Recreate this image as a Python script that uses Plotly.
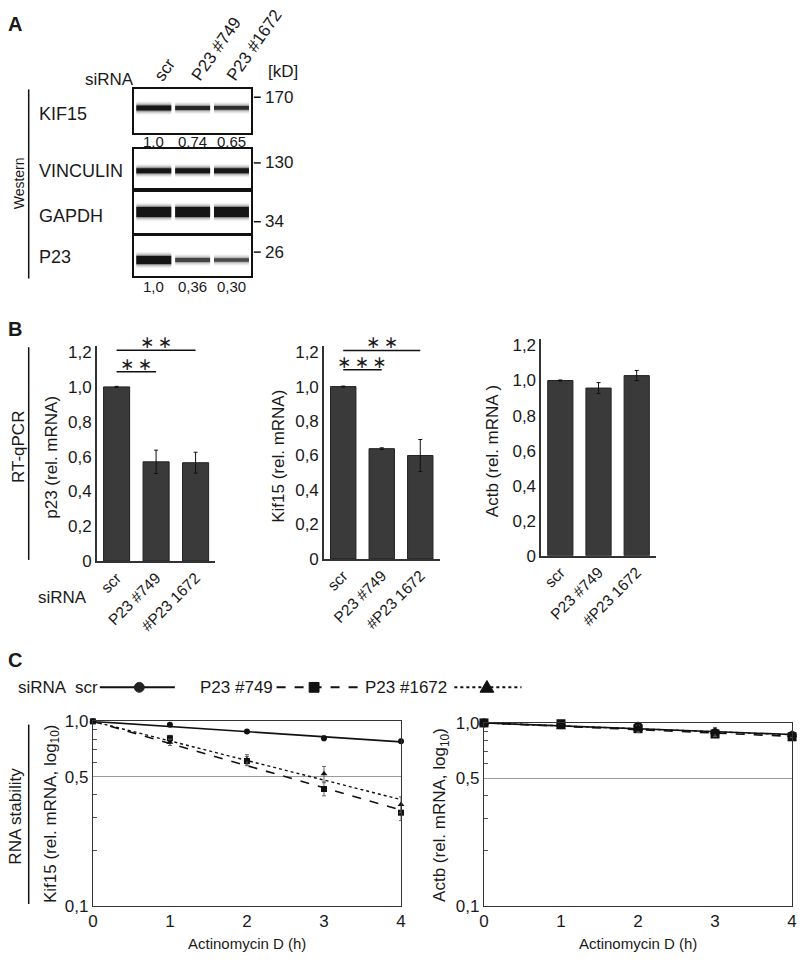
import numpy as np
import plotly.graph_objects as go

W, H = 803, 963

# ---------------- data ----------------
lanes = ["scr", "P23 #749", "P23 #1672"]
blot_rows = ["KIF15", "VINCULIN", "GAPDH", "P23"]
kif15_band = [1.0, 0.74, 0.65]
vinculin_band = [1.0, 1.0, 0.97]
gapdh_band = [1.0, 1.0, 1.0]
p23_band = [1.0, 0.36, 0.30]
kif15_quant = ["1,0", "0,74", "0,65"]
p23_quant = ["1,0", "0,36", "0,30"]
mw_labels = ["170", "130", "34", "26"]

bar_cats = ["scr", "P23 #749", "#P23 1672"]
p23_mrna = [1.0, 0.57, 0.565]
p23_err = [0.003, 0.067, 0.06]
kif15_mrna = [1.0, 0.64, 0.60]
kif15_err = [0.003, 0.005, 0.093]
actb_mrna = [1.0, 0.957, 1.028]
actb_err = [0.003, 0.031, 0.029]
p23_sig = ["∗&#8201;∗", "∗&#8201;∗"]        # scr vs #749, scr vs #1672
kif15_sig = ["∗&#8201;∗&#8201;∗", "∗&#8201;∗"]
bar_ticks = [0, 0.2, 0.4, 0.6, 0.8, 1.0, 1.2]
bar_ticktext = ["0", "0,2", "0,4", "0,6", "0,8", "1,0", "1,2"]

time_h = [0, 1, 2, 3, 4]
kif15_scr = [1.0, 0.96, 0.88, 0.81, 0.78]
kif15_scr_err = [0.0, 0.012, 0.012, 0.025, 0.02]
kif15_749 = [1.0, 0.81, 0.61, 0.43, 0.32]
kif15_749_err = [0.0, 0.03, 0.035, 0.035, 0.03]
kif15_1672 = [1.0, 0.77, 0.62, 0.52, 0.355]
kif15_1672_err = [0.0, 0.03, 0.04, 0.05, 0.035]
actb_scr = [1.0, 0.98, 0.96, 0.885, 0.855]
actb_scr_err = [0.0, 0.02, 0.03, 0.04, 0.03]
actb_749 = [1.0, 0.99, 0.93, 0.87, 0.84]
actb_749_err = [0.0, 0.02, 0.03, 0.03, 0.03]
actb_1672 = [1.0, 0.95, 0.93, 0.895, 0.865]
actb_1672_err = [0.0, 0.02, 0.04, 0.05, 0.03]
log_ticks = [0.1, 0.5, 1.0]
log_ticktext = ["0,1", "0,5", "1,0"]
x_ticks = [0, 1, 2, 3, 4]

# ---------------- helpers ----------------
FONT = "Liberation Sans, Arial, sans-serif"
STAR_FONT = "DejaVu Sans, sans-serif"
TXT = "#1a1a1a"


def px(x):
    return x / W


def py(y):
    return 1 - y / H


def xd(a, b):
    return [a / W, b / W]


def yd(top, bot):
    return [1 - bot / H, 1 - top / H]


fig = go.Figure()
layout = {}
annotations = []
shapes = []


def ann(text, x, y, size=17, xanchor="center", yanchor="middle", angle=0,
        bold=False, xref="paper", yref="paper", color=TXT, yshift=0, family=FONT):
    if bold:
        text = "<b>" + text + "</b>"
    annotations.append(dict(text=text, x=x, y=y, xref=xref, yref=yref,
                            xanchor=xanchor, yanchor=yanchor, textangle=angle,
                            showarrow=False, yshift=yshift, borderpad=0,
                            font=dict(family=family, size=size, color=color)))


def pline(x0, y0, x1, y1, width=2, color="#111", dash="solid"):
    shapes.append(dict(type="line", xref="paper", yref="paper",
                       x0=px(x0), y0=py(y0), x1=px(x1), y1=py(y1),
                       line=dict(color=color, width=width, dash=dash)))


# ---------------- Panel A: western blot ----------------
box_y = {"KIF15": (82, 127), "VINCULIN": (143, 183), "GAPDH": (187, 229), "P23": (232, 272)}
band_pos = {"KIF15": 0.58, "VINCULIN": 0.45, "GAPDH": 0.52, "P23": 0.40}
band_base = {"KIF15": 5, "VINCULIN": 5, "GAPDH": 10, "P23": 8}
row_label_y = {"KIF15": 107, "VINCULIN": 165, "GAPDH": 211, "P23": 253}
band_values = {"KIF15": kif15_band, "VINCULIN": vinculin_band, "GAPDH": gapdh_band, "P23": p23_band}
blur_layers = ((8, 0.06), (6, 0.09), (4, 0.14), (2, 0.3), (0, 1.0))

for n, row in enumerate(blot_rows, start=1):
    top, bot = box_y[row]
    layout[f"xaxis{n}"] = dict(domain=xd(131, 249), range=[-0.5, 2.5], showline=True, mirror=True,
                               linecolor="#111", linewidth=2, showticklabels=False, ticks="",
                               showgrid=False, zeroline=False, anchor=f"y{n}", fixedrange=True)
    layout[f"yaxis{n}"] = dict(domain=yd(top, bot), range=[0, 1], showline=True, mirror=True,
                               linecolor="#111", linewidth=2, showticklabels=False, ticks="",
                               showgrid=False, zeroline=False, anchor=f"x{n}", fixedrange=True)
    yc = band_pos[row]
    for i, v in enumerate(band_values[row]):
        w = band_base[row] * v ** 0.7
        core = 0.5 + 0.45 * v
        for extra, frac in blur_layers:
            fig.add_trace(go.Scatter(x=[i - 0.45, i + 0.45], y=[yc, yc], mode="lines",
                                     line=dict(color=f"rgba(15,15,15,{frac * core:.3f})", width=w + extra),
                                     xaxis=f"x{n}", yaxis=f"y{n}", hoverinfo="skip",
                                     showlegend=False))
    ann(row, px(33), py(row_label_y[row]), size=18, xanchor="left")

for i, t in enumerate(kif15_quant):
    ann(t, i, py(135), size=15, xref="x1")
for i, t in enumerate(p23_quant):
    ann(t, i, py(283), size=15, xref="x4")

mw_y = [90, 157, 217, 248]
for lab, yy in zip(mw_labels, mw_y):
    pline(252, yy, 259, yy, width=1.5)
    ann(lab, px(262), py(yy), size=17, xanchor="left")

ann("[kD]", px(282), py(64), size=17)
ann("siRNA", px(106), py(72), size=17)
lane_start = [146, 184, 219]
for lab, xx in zip(lanes, lane_start):
    ann(lab, px(xx), py(78), size=17, xanchor="left", yanchor="bottom", angle=-55)
ann("A", px(2), py(15), size=20, xanchor="left", bold=True)
ann("Western", px(15), py(178), size=14, angle=-90)
pline(24, 82, 24, 275, width=1.5)

# ---------------- Panel B: bar charts ----------------
bar_specs = [
    (5, (93, 213), (563.3, 177.8), p23_mrna, p23_err, "p23 (rel. mRNA)", 47),
    (6, (323, 440), (561.0, 175.8), kif15_mrna, kif15_err, "Kif15 (rel. mRNA)", 277),
    (7, (543, 659), (557.7, 178.7), actb_mrna, actb_err, "Actb (rel. mRNA )", 493),
]
YMAX = 1.235
for n, (x0, x1), (zero_px, per_unit), vals, errs, title, tx in bar_specs:
    top_px = zero_px - YMAX * per_unit
    layout[f"xaxis{n}"] = dict(domain=xd(x0, x1), range=[-0.5, 2.5], showline=True,
                               linecolor="#333", linewidth=1.5, ticks="", tickangle=-45,
                               tickmode="array", tickvals=[0, 1, 2], ticktext=bar_cats,
                               tickfont=dict(family=FONT, size=15.5, color=TXT),
                               showgrid=False, zeroline=False, anchor=f"y{n}", fixedrange=True)
    layout[f"yaxis{n}"] = dict(domain=yd(top_px, zero_px), range=[0, YMAX], showline=True,
                               linecolor="#333", linewidth=1.5, ticks="",
                               tickmode="array", tickvals=bar_ticks, ticktext=bar_ticktext,
                               tickfont=dict(family=FONT, size=17, color=TXT),
                               showgrid=False, zeroline=False, anchor=f"x{n}", fixedrange=True)
    fig.add_trace(go.Bar(x=[0, 1, 2], y=vals, width=0.66,
                         marker=dict(color="#3a3a3a", line=dict(color="#222", width=1)),
                         error_y=dict(type="data", array=errs, color="#111", thickness=1, width=2),
                         xaxis=f"x{n}", yaxis=f"y{n}", showlegend=False, hoverinfo="skip"))
    ann(title, px(tx), (py(zero_px) + py(top_px)) / 2 - 0.004, size=17, angle=-90)

# significance bars
sig_sets = [(5, p23_sig, (1.087, 1.21)), (6, kif15_sig, (1.098, 1.21))]
for n, labels, levels in sig_sets:
    for k, (lab, lev) in enumerate(zip(labels, levels)):
        x_end = k + 1
        shapes.append(dict(type="line", xref=f"x{n}", yref=f"y{n}", x0=0, x1=x_end,
                           y0=lev, y1=lev, line=dict(color="#111", width=1.5)))
        ann(lab, x_end / 2, lev, size=17, xref=f"x{n}", yref=f"y{n}", yanchor="middle",
            yshift=8, family=STAR_FONT)

ann("B", px(2), py(326), size=20, xanchor="left", bold=True)
ann("RT-qPCR", px(13), py(447), size=17, angle=-90)
pline(24, 345, 24, 562, width=1.5)
ann("siRNA", px(58), py(600), size=17)

# ---------------- Panel C: RNA decay ----------------
def exp_fit(t, y):
    t = np.asarray(t, float)
    ly = np.log10(np.asarray(y, float))
    slope = np.sum(t * ly) / np.sum(t * t)
    return 10 ** (slope * t)


series_styles = [
    ("circle", "solid", 1.6),
    ("square", "dash", 1.6),
    ("triangle-up", "dot", 1.4),
]
decay_specs = [
    (8, (89, 401), (726.7, 915), [(kif15_scr, kif15_scr_err), (kif15_749, kif15_749_err),
                                  (kif15_1672, kif15_1672_err)], 6,
     "Kif15 (rel. mRNA, log<sub>10</sub>)", 47),
    (9, (485, 797), (728.3, 915), [(actb_scr, actb_scr_err), (actb_749, actb_749_err),
                                   (actb_1672, actb_1672_err)], 9,
     "Actb (rel. mRNA, log<sub>10</sub>)", 442),
]
minor_vals = [0.2, 0.3, 0.4, 0.6, 0.7, 0.8, 0.9]
for n, (x0, x1), (top, bot), series, msize, title, tx in decay_specs:
    layout[f"xaxis{n}"] = dict(domain=xd(x0, x1), range=[0, 4], showline=True, mirror=True,
                               linecolor="#333", linewidth=1.2, ticks="",
                               tickmode="array", tickvals=x_ticks,
                               tickfont=dict(family=FONT, size=17, color=TXT),
                               showgrid=False, zeroline=False, anchor=f"y{n}", fixedrange=True)
    layout[f"yaxis{n}"] = dict(domain=yd(top, bot), type="log", range=[-1, 0], showline=True,
                               mirror=True, linecolor="#333", linewidth=1.2, ticks="",
                               tickmode="array", tickvals=log_ticks, ticktext=log_ticktext,
                               tickfont=dict(family=FONT, size=17, color=TXT),
                               showgrid=True, gridcolor="#9a9a9a", gridwidth=1.3,
                               minor=dict(tickmode="array", tickvals=minor_vals, ticks="inside",
                                          ticklen=4, tickcolor="#555", showgrid=False),
                               zeroline=False, anchor=f"x{n}", fixedrange=True)
    for (vals, errs), (sym, dash, lw) in zip(series, series_styles):
        fit = exp_fit(time_h, vals)
        fig.add_trace(go.Scatter(x=time_h, y=fit, mode="lines",
                                 line=dict(color="#111", width=lw, dash=dash),
                                 xaxis=f"x{n}", yaxis=f"y{n}", showlegend=False,
                                 hoverinfo="skip"))
        fig.add_trace(go.Scatter(x=time_h, y=vals, mode="markers",
                                 marker=dict(symbol=sym, size=msize, color="#111"),
                                 error_y=dict(type="data", array=errs, color="#666",
                                              thickness=1, width=2),
                                 cliponaxis=False, xaxis=f"x{n}", yaxis=f"y{n}",
                                 showlegend=False, hoverinfo="skip"))
    ann(title, px(tx), (py(top) + py(bot)) / 2, size=17, angle=-90)
    ann("Actinomycin D (h)", px((x0 + x1) / 2), py(953), size=15)

ann("C", px(2), py(664), size=20, xanchor="left", bold=True)
ann("RNA stability", px(11), py(823), size=17, angle=-90)
pline(24, 730, 24, 913, width=1.5)

# legend row for panel C
LY = 692
ann("siRNA", px(38), py(LY), size=17)
ann("scr", px(95), py(LY), size=17, xanchor="right")
pline(96, LY, 172, LY, width=2)
shapes.append(dict(type="circle", xref="paper", yref="paper", x0=px(131), x1=px(141),
                   y0=py(LY + 5), y1=py(LY - 5), fillcolor="#222", line=dict(color="#222", width=1)))
ann("P23 #749", px(272), py(LY), size=17, xanchor="right")
pline(275, LY, 358, LY, width=2, dash="dash")
shapes.append(dict(type="rect", xref="paper", yref="paper", x0=px(308), x1=px(318),
                   y0=py(LY + 5), y1=py(LY - 5), fillcolor="#111", line=dict(color="#111", width=1)))
ann("P23 #1672", px(449), py(LY), size=17, xanchor="right")
pline(455, LY, 523, LY, width=2, dash="dot")
tri = f"M {px(481)},{py(LY + 5)} L {px(495)},{py(LY + 5)} L {px(488)},{py(LY - 7)} Z"
shapes.append(dict(type="path", xref="paper", yref="paper", path=tri,
                   fillcolor="#111", line=dict(color="#111", width=1)))

fig.update_layout(
    width=W, height=H, autosize=False,
    margin=dict(l=0, r=0, t=0, b=0),
    paper_bgcolor="white", plot_bgcolor="white",
    font=dict(family=FONT, color=TXT),
    showlegend=False,
    annotations=annotations, shapes=shapes,
    **layout,
)
fig.write_html("out.html", config={"displayModeBar": False},
               post_script="document.body.style.margin='0px';document.body.style.overflow='hidden';")
